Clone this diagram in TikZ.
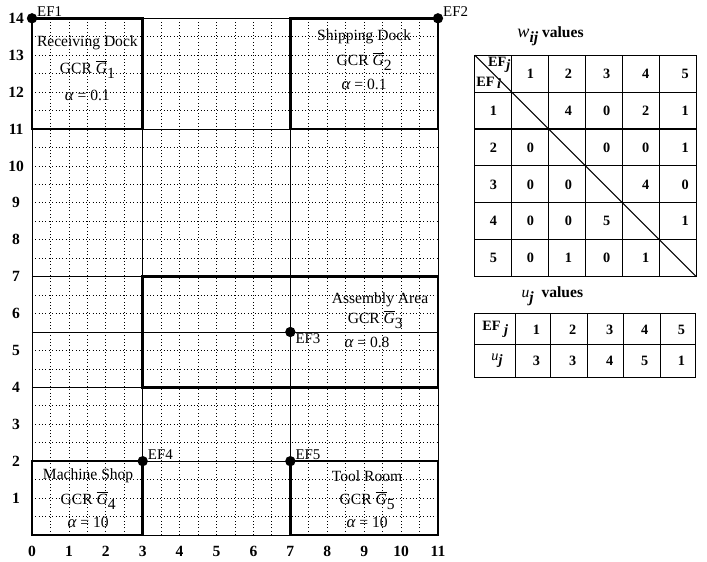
\documentclass[tikz,border=0pt]{standalone}
\usepackage{fontspec}
\setmainfont{Liberation Serif}

\newcommand{\gcrlabel}[1]{GCR $\overline{\mbox{\itshape G}}$\raisebox{-0.7ex}{#1}}
\newcommand{\alphalabel}[1]{{\fontsize{13}{14}\selectfont\itshape α} = #1}

\begin{document}
\begin{tikzpicture}[x=1cm, y=1cm,
                    room/.style={line width=1.9pt},
                    guide/.style={line width=0.7pt},
                    tabline/.style={line width=0.8pt},
                    efpt/.style={circle, fill, inner sep=0pt, minimum size=2.8mm},
                    eflabel/.style={font=\fontsize{11.5}{12}\selectfont, inner sep=1pt},
                    roomtext/.style={font=\fontsize{12}{13}\selectfont},
                    axislabel/.style={font=\bfseries\fontsize{12}{13}\selectfont},
                    wcell/.style={font=\bfseries\fontsize{11}{12}\selectfont}]
  \useasboundingbox (-0.867,-0.708) rectangle (18.29,14.496);

  % floor grid
  \draw[step=0.5, dotted, line width=0.6pt] (0,0) grid (11,14);
  \draw[guide] (0,0) rectangle (11,14);
  \draw[guide] (3,0) -- (3,14);
  \draw[guide] (7,0) -- (7,14);
  \foreach \y in {2,4,5.5,7,11}
    \draw[guide] (0,\y) -- (11,\y);

  % rooms
  \draw[room] (0,11) rectangle (3,14);
  \draw[room] (7,11) rectangle (11,14);
  \draw[room] (3,4) rectangle (11,7);
  \draw[room] (0,0) rectangle (3,2);
  \draw[room] (7,0) rectangle (11,2);

  \foreach \i in {0,...,11}
    \node[axislabel] (xl\i) at (\i,-0.44) {\i};
  \foreach \i in {1,...,14}
    \node[axislabel] (yl\i) at (-0.43,\i) {\i};

  \node[roomtext] (recv)  at (1.5,13.35) {Receiving Dock};
  \node[roomtext] (recvg) at (1.5,12.62) {\gcrlabel{1}};
  \node[roomtext] (recva) at (1.5,11.92) {\alphalabel{0.1}};

  \node[roomtext] (ship)  at (9,13.5)  {Shipping Dock};
  \node[roomtext] (shipg) at (9,12.82) {\gcrlabel{2}};
  \node[roomtext] (shipa) at (9,12.2)  {\alphalabel{0.1}};

  \node[roomtext] (asm)  at (9.43,6.38) {Assembly Area};
  \node[roomtext] (asmg) at (9.3,5.83)  {\gcrlabel{3}};
  \node[roomtext] (asma) at (9.08,5.23) {\alphalabel{0.8}};

  \node[roomtext] (mach)  at (1.52,1.6)  {Machine Shop};
  \node[roomtext] (machg) at (1.52,0.93) {\gcrlabel{4}};
  \node[roomtext] (macha) at (1.52,0.33) {\alphalabel{10}};

  \node[roomtext] (tool)  at (9.08,1.6)  {Tool Room};
  \node[roomtext] (toolg) at (9.08,0.93) {\gcrlabel{5}};
  \node[roomtext] (toola) at (9.08,0.35) {\alphalabel{10}};

  % entry/exit points
  \node[efpt] (ef1) at (0,14) {};
  \node[efpt] (ef2) at (11,14) {};
  \node[efpt] (ef3) at (7,5.5) {};
  \node[efpt] (ef4) at (3,2) {};
  \node[efpt] (ef5) at (7,2) {};
  \node[eflabel, anchor=south west] (ef1lab) at ([xshift=1mm]ef1.center) {EF1};
  \node[eflabel, anchor=south west] (ef2lab) at ([xshift=1mm]ef2.center) {EF2};
  \node[eflabel, anchor=north west] (ef3lab) at ([xshift=1mm]ef3.center) {EF3};
  \node[eflabel, anchor=south west] (ef4lab) at ([xshift=1mm]ef4.center) {EF4};
  \node[eflabel, anchor=south west] (ef5lab) at ([xshift=1mm]ef5.center) {EF5};

  % w_ij table
  \node[axislabel] (wtitle) at (14.05,13.52)
    {{\mdseries\itshape\fontsize{14}{14}\selectfont w}\raisebox{-0.7ex}{\itshape ij}\ values};
  \draw[tabline] (12,7) grid (18,13);
  \draw[tabline] (12,13) -- (18,7);
  \node[wcell, anchor=north east, inner sep=1pt] (efj) at (13,13)
    {EF\raisebox{-0.5ex}{\itshape j}};
  \node[wcell, anchor=south west, inner sep=1pt] (efi) at (12,12.05)
    {EF\,\raisebox{-0.3ex}{\itshape i}};
  \foreach \c in {1,...,5}
    \node[wcell] (wh\c) at (12.5+\c+0.04*\c*\c/5,12.5) {\c};
  \foreach \r in {1,...,5}
    \node[wcell] (wr\r) at (12.5,12.5-\r) {\r};
  \foreach \c/\v in {2/4,3/0,4/2,5/1}
    \node[wcell] (w1\c) at (12.5+\c+0.04*\c*\c/5,11.5) {\v};
  \foreach \c/\v in {1/0,3/0,4/0,5/1}
    \node[wcell] (w2\c) at (12.5+\c+0.04*\c*\c/5,10.5) {\v};
  \foreach \c/\v in {1/0,2/0,4/4,5/0}
    \node[wcell] (w3\c) at (12.5+\c+0.04*\c*\c/5,9.5) {\v};
  \foreach \c/\v in {1/0,2/0,3/5,5/1}
    \node[wcell] (w4\c) at (12.5+\c+0.04*\c*\c/5,8.5) {\v};
  \foreach \c/\v in {1/0,2/1,3/0,4/1}
    \node[wcell] (w5\c) at (12.5+\c+0.04*\c*\c/5,7.5) {\v};

  % u_j table
  \node[axislabel] (utitle) at (14.1,6.46)
    {{\mdseries\itshape u}\raisebox{-0.7ex}{\itshape j}\ \ values};
  \draw[tabline] (12,4.28) rectangle (17.97,6);
  \draw[tabline] (12,5.15) -- (17.97,5.15);
  \foreach \x in {13.09,14.04,15.04,16.04,17.02}
    \draw[tabline] (\x,4.28) -- (\x,6);
  \node[wcell] (uhd) at (12.55,5.57) {EF \raisebox{-0.5ex}{\itshape j}};
  \node[wcell] (uu)  at (12.6,4.71) {{\mdseries\itshape u}\raisebox{-0.6ex}{\itshape j}};
  \foreach \c/\x/\v/\w in {1/13.67/1/3, 2/14.65/2/3, 3/15.65/3/4, 4/16.6/4/5, 5/17.6/5/1} {
    \node[wcell] (uh\c) at (\x,5.57) {\v};
    \node[wcell] (uv\c) at (\x,4.71) {\w};
  }
\end{tikzpicture}
\end{document}
